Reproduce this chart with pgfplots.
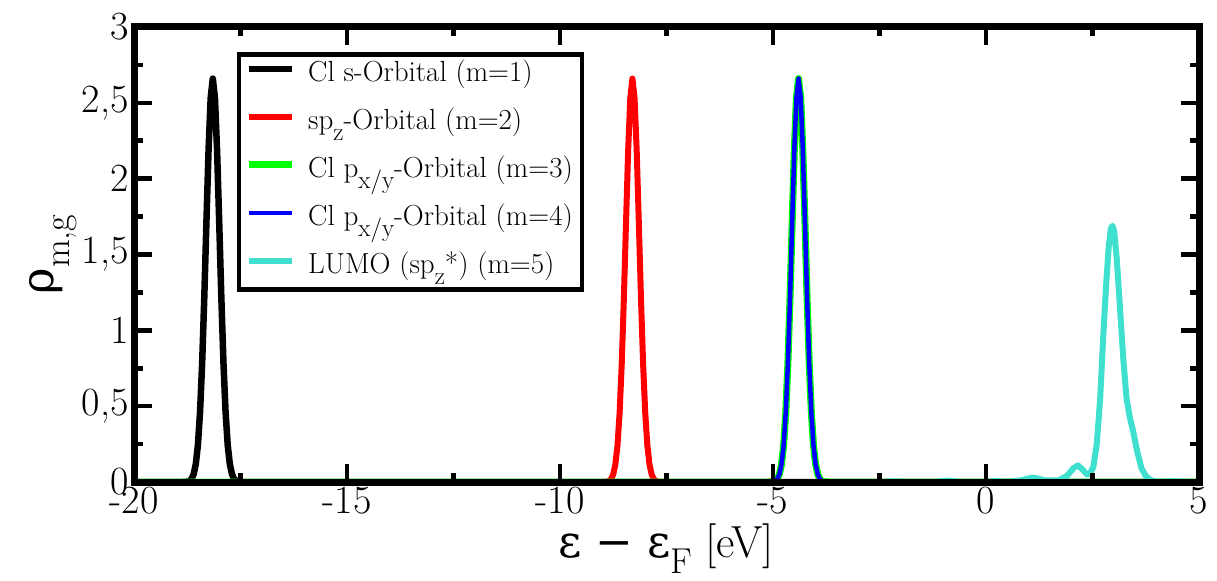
\documentclass[border=0pt]{standalone}
\usepackage{fontspec}
\newfontfamily\grk{DejaVu Serif}
\usepackage{pgfplots}
\usepackage{pgfplotstable}
\pgfplotsset{compat=1.18}
\definecolor{turq}{RGB}{64,224,208}
\definecolor{pgreen}{RGB}{0,255,0}
\definecolor{pblue}{RGB}{0,0,255}
\definecolor{pred}{RGB}{255,0,0}
\newcommand\subL[1]{\raisebox{-11pt}{\fontsize{25}{25}\selectfont #1}}
\newcommand\subX[1]{\raisebox{-16pt}{\fontsize{36}{36}\selectfont #1}}

\begin{document}
\pgfplotstableread{
x y
-20 0
-18.85 0
-18.75 0.002
-18.70 0.007
-18.65 0.020
-18.60 0.051
-18.55 0.117
-18.50 0.243
-18.45 0.459
-18.40 0.785
-18.35 1.218
-18.30 1.714
-18.25 2.188
-18.20 2.533
-18.15 2.66
-18.10 2.533
-18.05 2.188
-18.00 1.714
-17.95 1.218
-17.90 0.785
-17.85 0.459
-17.80 0.243
-17.75 0.117
-17.70 0.051
-17.65 0.020
-17.60 0.007
-17.55 0.002
-17.45 0
5 0
}\sorb
\pgfplotstableread{
x y
-20 0
-9.0 0
-8.90 0.002
-8.85 0.007
-8.80 0.020
-8.75 0.051
-8.70 0.117
-8.65 0.243
-8.60 0.459
-8.55 0.785
-8.50 1.218
-8.45 1.714
-8.40 2.188
-8.35 2.533
-8.30 2.66
-8.25 2.533
-8.20 2.188
-8.15 1.714
-8.10 1.218
-8.05 0.785
-8.00 0.459
-7.95 0.243
-7.90 0.117
-7.85 0.051
-7.80 0.020
-7.75 0.007
-7.70 0.002
-7.60 0
5 0
}\sporb
\pgfplotstableread{
x y
-20 0
-5.10 0
-5.00 0.002
-4.95 0.007
-4.90 0.020
-4.85 0.051
-4.80 0.117
-4.75 0.243
-4.70 0.459
-4.65 0.785
-4.60 1.218
-4.55 1.714
-4.50 2.188
-4.45 2.533
-4.40 2.66
-4.35 2.533
-4.30 2.188
-4.25 1.714
-4.20 1.218
-4.15 0.785
-4.10 0.459
-4.05 0.243
-4.00 0.117
-3.95 0.051
-3.90 0.020
-3.85 0.007
-3.80 0.002
-3.70 0
5 0
}\porb
\pgfplotstableread{
x y
-20 0
-2.5 0
-2.2 0.004
-1.9 0
-1.2 0
-0.9 0.01
-0.6 0
0.0 0
0.2 0.008
0.45 0
0.8 0.01
1.1 0.03
1.4 0.01
1.7 0.01
1.9 0.04
2.05 0.09
2.16 0.11
2.27 0.08
2.37 0.05
2.45 0.06
2.52 0.10
2.60 0.25
2.68 0.55
2.75 0.95
2.82 1.30
2.88 1.55
2.93 1.67
2.97 1.69
3.01 1.65
3.07 1.47
3.14 1.17
3.22 0.82
3.30 0.55
3.38 0.42
3.45 0.34
3.55 0.20
3.65 0.09
3.75 0.04
3.85 0.015
4.0 0
4.3 0.004
4.5 0.004
4.7 0
5 0
}\lumo%
\begin{tikzpicture}
\begin{axis}[
  width=1065pt, height=455pt, scale only axis,
  xmin=-20, xmax=5, ymin=0, ymax=3,
  axis on top,
  axis line style={line width=7pt, line join=miter},
  every tick/.style={black, line width=4.5pt},
  major tick length=18pt, minor tick length=9pt,
  xtick={-20,-15,-10,-5,0,5}, xticklabels={-20,-15,-10,-5,0,5},
  ytick={0,0.5,1,1.5,2,2.5,3}, yticklabels={0,{0,5},1,{1,5},2,{2,5},3},
  minor x tick num=1, minor y tick num=1,
  tick label style={font=\fontsize{40}{40}\selectfont},
  xticklabel style={yshift=-2pt},
  yticklabel style={xshift=-2pt},
  xlabel={{\grk ε} {\grk −} {\grk ε}\subX{F} [eV]},
  ylabel={{\grk ρ}\subX{m,g}},
  label style={font=\fontsize{45}{45}\selectfont},
  xlabel style={yshift=-2pt},
  ylabel style={yshift=-2pt},
  legend cell align=left,
  legend image code/.code={\draw[#1] (0pt,7pt) -- (43pt,7pt);},
  legend style={at={(0.0967,0.945)}, anchor=north west, draw=black,
    line width=4.5pt, fill=white, font=\fontsize{29}{29}\selectfont,
    inner xsep=6pt, inner ysep=1pt, row sep=7pt, column sep=10pt,
    nodes={inner sep=3pt, text height=23pt, text depth=12pt}},
]
\addplot[black, line width=6.5pt, line join=round] table {\sorb};
\addlegendentry{Cl s-Orbital (m=1)}
\addplot[pred, line width=6pt, line join=round] table {\sporb};
\addlegendentry{sp\subL{z}-Orbital (m=2)}
\addplot[pgreen, line width=7pt, line join=round] table {\porb};
\addlegendentry{Cl p\subL{x/y}-Orbital (m=3)}
\addplot[pblue, line width=4.5pt, line join=round] table {\porb};
\addlegendentry{Cl p\subL{x/y}-Orbital (m=4)}
\addplot[turq, line width=6pt, line join=round] table {\lumo};
\addlegendentry{LUMO (sp\subL{z}*) (m=5)}
\coordinate (ll) at (rel axis cs:0,0);
\coordinate (ur) at (rel axis cs:1,1);
\end{axis}
\path ([shift={(-134pt,-98pt)}]ll) rectangle ([shift={(18pt,27pt)}]ur);
\end{tikzpicture}
\end{document}
